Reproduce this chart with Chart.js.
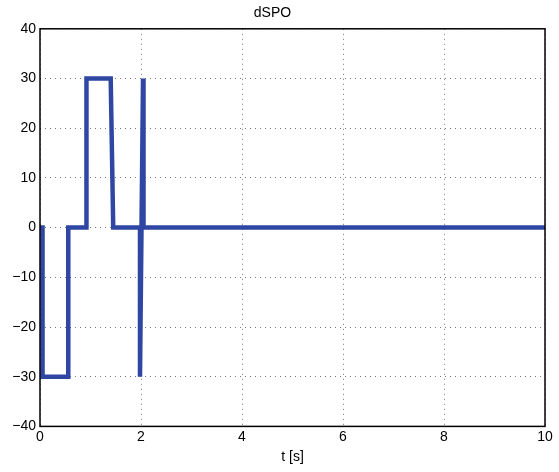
<!DOCTYPE html>
<html>
<head>
<meta charset="utf-8">
<script src="https://cdn.jsdelivr.net/npm/chart.js@4/dist/chart.umd.min.js"></script>
<style>
  html, body { margin: 0; padding: 0; background: #fff; }
  #wrap { width: 559px; height: 472px; }
</style>
</head>
<body>
<div id="wrap"><canvas id="dspoChart"></canvas></div>
<script>
// Dados
const tValues    = [0, 0.05, 0.05, 0.56, 0.56, 0.92, 0.92, 1.40, 1.45, 1.98, 1.98, 2.04, 2.05, 10];
const dspoValues = [0, 0,   -30,  -30,   0,    0,    30,   30,   0,    0,   -30,   30,   0,    0];
const xTicks = [0, 2, 4, 6, 8, 10];
const yTicks = [-40, -30, -20, -10, 0, 10, 20, 30, 40];

const points = tValues.map((t, i) => ({ x: t, y: dspoValues[i] }));

// moldura estilo MATLAB
const boxPlugin = {
    id: 'box',
    afterDraw(chart) {
        const { ctx, chartArea: a } = chart;
        ctx.save();
        ctx.strokeStyle = '#000';
        ctx.lineWidth = 1.5;
        ctx.strokeRect(a.left, a.top, a.right - a.left, a.bottom - a.top);
        ctx.restore();
    }
};

const fmt = v => String(v).replace('-', '\u2212');

new Chart(document.getElementById('dspoChart').getContext('2d'), {
    type: 'line',
    data: {
        datasets: [{
            label: 'dSPO',
            data: points,
            borderColor: '#2f47a3',
            borderWidth: 4.5,
            pointRadius: 0,
            tension: 0,
            fill: false
        }]
    },
    options: {
        responsive: true,
        maintainAspectRatio: false,
        animation: false,
        layout: { padding: { left: 0, right: 14, top: 0, bottom: 0 } },
        plugins: {
            legend: { display: false },
            tooltip: { enabled: false },
            title: {
                display: true,
                text: 'dSPO',
                color: '#000',
                font: { family: 'Liberation Sans, Arial, sans-serif', size: 14, weight: 'normal' },
                padding: { top: 5, bottom: 7 }
            }
        },
        scales: {
            x: {
                type: 'linear',
                min: 0,
                max: 10,
                afterBuildTicks: s => { s.ticks = xTicks.map(v => ({ value: v })); },
                ticks: {
                    color: '#000',
                    font: { family: 'Liberation Sans, Arial, sans-serif', size: 14 },
                    padding: 2,
                    maxRotation: 0,
                    callback: v => fmt(v)
                },
                grid: { color: '#777', lineWidth: 1, tickLength: 0, drawTicks: false },
                border: { display: false, dash: [1, 4] },
                title: {
                    display: true,
                    text: 't [s]',
                    color: '#000',
                    font: { family: 'Liberation Sans, Arial, sans-serif', size: 14 },
                    padding: { top: 2, bottom: 6 }
                }
            },
            y: {
                min: -40,
                max: 40,
                afterBuildTicks: s => { s.ticks = yTicks.map(v => ({ value: v })); },
                afterFit: s => { s.width = 40; },
                ticks: {
                    color: '#000',
                    font: { family: 'Liberation Sans, Arial, sans-serif', size: 14 },
                    padding: 4,
                    callback: v => fmt(v)
                },
                grid: { color: '#777', lineWidth: 1, drawTicks: false },
                border: { display: false, dash: [1, 4] }
            }
        }
    },
    plugins: [boxPlugin]
});
</script>
</body>
</html>
